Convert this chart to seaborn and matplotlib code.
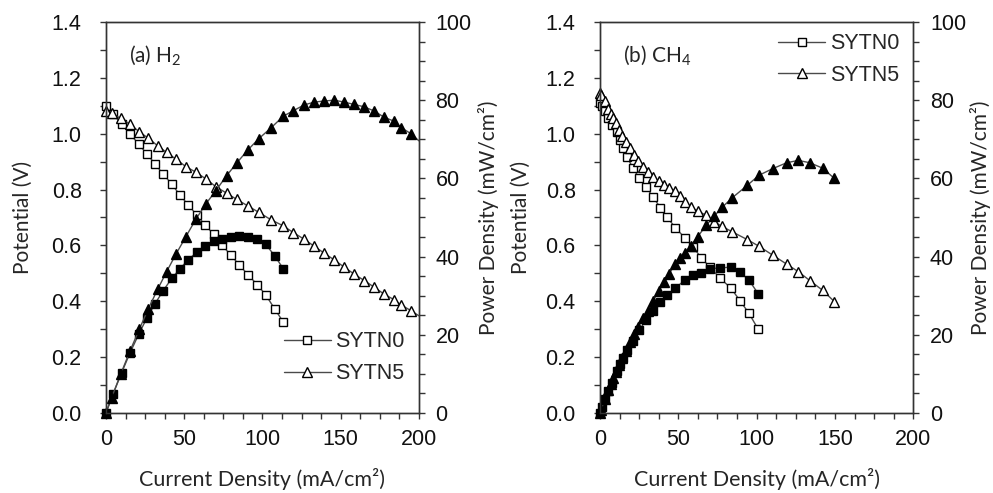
import matplotlib
matplotlib.use('Agg')
import matplotlib.pyplot as plt
from matplotlib.ticker import MultipleLocator
from matplotlib.lines import Line2D
import seaborn as sns

# ---- (a) H2 fuel ----
h2_sytn0_current = [0, 4.6, 10, 15.3, 21, 26.3, 31.3, 36.6, 42, 47.3, 52.6, 58,
                    63.4, 68.8, 74.3, 79.7, 85.2, 90.9, 96.6, 102.2, 108, 113.3]
h2_sytn0_potential = [1.10, 1.07, 1.035, 1.0, 0.962, 0.927, 0.892, 0.855, 0.82, 0.78, 0.745,
                      0.709, 0.673, 0.64, 0.60, 0.566, 0.53, 0.494, 0.46, 0.422, 0.371, 0.326]
h2_sytn0_power = [0, 4.9, 10.3, 15.3, 20.2, 24.4, 27.9, 31.3, 34.4, 36.9, 39.2,
                  41.1, 42.7, 44.0, 44.6, 45.1, 45.2, 44.9, 44.4, 43.1, 40.1, 36.9]

# last entry is where the curve meets the x = 200 edge (no marker drawn there)
h2_sytn5_current = [0, 3.6, 9.4, 15.3, 21.3, 27, 33, 38.7, 44.7, 51.1, 57.5, 63.9, 70.3,
                    77.1, 83.5, 90.5, 97.5, 105.4, 113.3, 119.7, 126.7, 133.1, 139.5, 145.9,
                    152.3, 158.7, 165.1, 171.5, 177.9, 184.3, 188.6, 195, 200]
h2_sytn5_potential = [1.08, 1.073, 1.055, 1.034, 1.007, 0.984, 0.957, 0.933, 0.909, 0.882,
                      0.862, 0.838, 0.81, 0.787, 0.765, 0.742, 0.719, 0.692, 0.670, 0.646,
                      0.622, 0.597, 0.572, 0.548, 0.522, 0.497, 0.474, 0.45, 0.425, 0.405,
                      0.387, 0.366, 0.348]
h2_sytn5_power = [0, 3.9, 9.9, 15.8, 21.4, 26.6, 31.6, 36.1, 40.6, 45.1, 49.6, 53.5, 56.9,
                  60.7, 63.9, 67.2, 70.1, 72.9, 75.9, 77.3, 78.8, 79.5, 79.8, 80.0, 79.5,
                  78.9, 78.3, 77.2, 75.6, 74.6, 73.0, 71.4, 69.6]

# ---- (b) CH4 fuel ----
ch4_sytn0_current = [0, 1.5, 3.2, 5.3, 7.4, 10.6, 12.8, 14.9, 17.5, 21, 25, 29.5, 34,
                     38.6, 43, 48.2, 54, 59.6, 64.5, 70.3, 76.6, 83.6, 89.4, 95.1, 101]
ch4_sytn0_potential = [1.11, 1.10, 1.08, 1.056, 1.03, 1.005, 0.978, 0.948, 0.915, 0.877,
                       0.842, 0.809, 0.772, 0.735, 0.70, 0.663, 0.628, 0.594, 0.556, 0.522,
                       0.483, 0.447, 0.402, 0.357, 0.30]
ch4_sytn0_power = [0, 1.65, 3.5, 5.6, 7.6, 10.7, 12.5, 14.1, 16.0, 18.4, 21.1, 23.9, 26.2,
                   28.4, 30.1, 32.0, 33.9, 35.4, 35.9, 36.9, 37.1, 37.3, 36.0, 34.0, 30.5]

ch4_sytn5_current = [0, 0.6, 3.2, 5.3, 7, 8.5, 10, 12.1, 14.2, 16.4, 19.2, 21.9, 24.4, 27.6,
                     30.4, 34, 37.6, 41, 44, 47.9, 51.1, 54.3, 58, 62.4, 68, 72.8, 78, 84.3,
                     94, 101.5, 110.3, 119.2, 126.6, 134, 142.2, 149.6]
ch4_sytn5_potential = [1.145, 1.14, 1.118, 1.09, 1.072, 1.056, 1.038, 1.014, 0.99, 0.969,
                       0.949, 0.925, 0.901, 0.881, 0.862, 0.844, 0.829, 0.818, 0.806, 0.794,
                       0.776, 0.754, 0.738, 0.722, 0.708, 0.685, 0.668, 0.649, 0.621, 0.597,
                       0.565, 0.533, 0.506, 0.474, 0.439, 0.399]
ch4_sytn5_power = [0, 0.7, 3.6, 5.8, 7.5, 9.0, 10.4, 12.3, 14.1, 15.9, 18.2, 20.3, 22.0,
                   24.3, 26.2, 28.7, 31.2, 33.5, 35.5, 38.0, 39.7, 40.9, 42.8, 45.1, 48.1,
                   50.3, 52.6, 55.0, 58.2, 60.8, 62.5, 64.0, 64.6, 64.0, 62.6, 60.0]

sns.set_style('ticks')
plt.rcParams['font.family'] = ['Liberation Sans', 'DejaVu Sans']
plt.rcParams['mathtext.fontset'] = 'custom'
plt.rcParams['mathtext.rm'] = 'Lato'
plt.rcParams['mathtext.it'] = 'Lato:italic'

LINE_COLOR = '#4a4a4a'
LABEL_FONT = 'Lato'
TICK_SIZE = 15.5


def draw_series(ax, x, y, marker, filled, size, markevery=None):
    sns.lineplot(x=x, y=y, ax=ax, sort=False, errorbar=None, color=LINE_COLOR,
                 linewidth=1, marker=marker, markersize=size,
                 markerfacecolor='black' if filled else 'white',
                 markeredgecolor='black', markeredgewidth=1,
                 markevery=markevery, clip_on=False, legend=False)


def draw_panel(ax, i0, v0, p0, i5, v5, p5, tag, legend_anchor, legend_loc, last_hidden=False):
    ax2 = ax.twinx()
    every = slice(0, -1) if last_hidden else None
    draw_series(ax2, i0, p0, 's', True, 6)
    draw_series(ax2, i5, p5, '^', True, 7.5, every)
    draw_series(ax, i0, v0, 's', False, 6)
    draw_series(ax, i5, v5, '^', False, 7.5, every)

    ax.set_xlim(0, 200)
    ax.set_ylim(0, 1.4)
    ax2.set_ylim(0, 100)
    ax.xaxis.set_major_locator(MultipleLocator(50))
    ax.xaxis.set_minor_locator(MultipleLocator(12.5))
    ax.yaxis.set_major_locator(MultipleLocator(0.2))
    ax.yaxis.set_minor_locator(MultipleLocator(0.1))
    ax2.yaxis.set_major_locator(MultipleLocator(20))
    ax2.yaxis.set_minor_locator(MultipleLocator(5))
    ax.set_yticklabels([f'{t:.1f}' for t in ax.get_yticks()])

    for a in (ax, ax2):
        a.tick_params(which='both', direction='out', length=4.5, width=1,
                      color='#333333', labelsize=TICK_SIZE, labelcolor='#111111')
        for s in a.spines.values():
            s.set_color('#333333')
            s.set_linewidth(1)
    ax.tick_params(axis='y', pad=13)
    ax.tick_params(axis='x', pad=7)
    ax2.tick_params(axis='y', pad=7.5)

    ax.set_xlabel('Current Density (mA/cm²)', fontsize=15.5, family=LABEL_FONT)
    ax.set_ylabel('Potential (V)', fontsize=15, family=LABEL_FONT)
    ax2.set_ylabel('Power Density (mW/cm²)', fontsize=15, family=LABEL_FONT)
    ax.xaxis.set_label_coords(0.5, -0.14)

    ax.text(0.075, 0.915, tag, transform=ax.transAxes, fontsize=15,
            family=LABEL_FONT, va='center', ha='left')

    handles = [
        Line2D([], [], color=LINE_COLOR, lw=1, marker='s', ms=6, mfc='white', mec='black'),
        Line2D([], [], color=LINE_COLOR, lw=1, marker='^', ms=7.5, mfc='white', mec='black'),
    ]
    ax.legend(handles, ['SYTN0', 'SYTN5'], loc=legend_loc, bbox_to_anchor=legend_anchor,
              frameon=False, fontsize=TICK_SIZE, handlelength=2.2, handletextpad=0.2,
              labelspacing=0.5, borderpad=0.2)
    return ax2


fig = plt.figure(figsize=(9.93, 4.93), dpi=100)
ax_a = fig.add_axes([0.1067, 0.1623, 0.3152, 0.7931])
ax_b = fig.add_axes([0.6042, 0.1623, 0.3155, 0.7931])

ax_a2 = draw_panel(ax_a, h2_sytn0_current, h2_sytn0_potential, h2_sytn0_power,
                   h2_sytn5_current, h2_sytn5_potential, h2_sytn5_power,
                   '(a) H$_2$', (0.52, 0.035), 'lower left', last_hidden=True)
ax_b2 = draw_panel(ax_b, ch4_sytn0_current, ch4_sytn0_potential, ch4_sytn0_power,
                   ch4_sytn5_current, ch4_sytn5_potential, ch4_sytn5_power,
                   '(b) CH$_4$', (0.52, 1.01), 'upper left')

ax_a.yaxis.set_label_coords(-0.235, 0.5)
ax_a2.yaxis.set_label_coords(1.19, 0.5)
ax_b.yaxis.set_label_coords(-0.22, 0.5)
ax_b2.yaxis.set_label_coords(1.18, 0.5)

fig.savefig('out.png', dpi=100)
